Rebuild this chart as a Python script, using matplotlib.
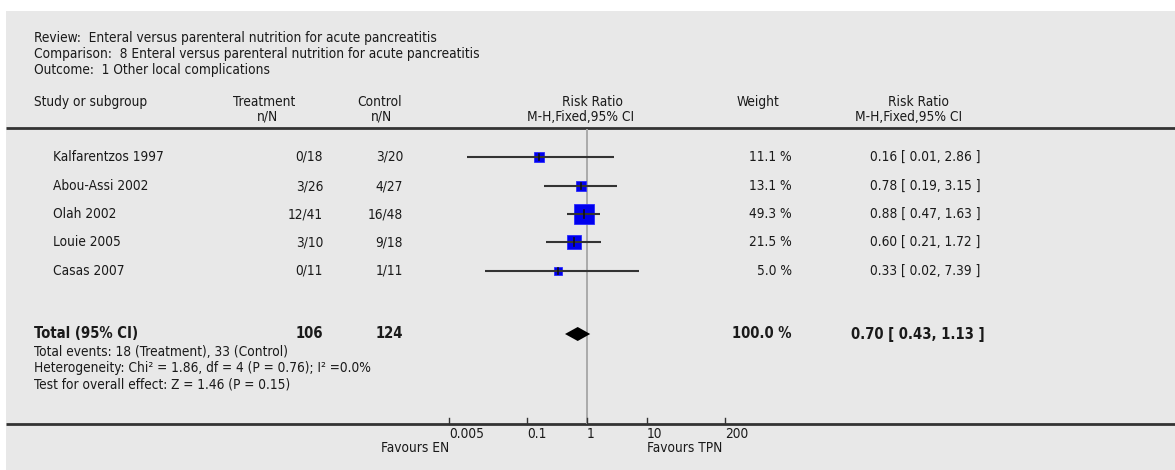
import numpy as np
import matplotlib
matplotlib.use("Agg")
import matplotlib.pyplot as plt

# ---- data -------------------------------------------------------------
studies = ["Kalfarentzos 1997", "Abou-Assi 2002", "Olah 2002", "Louie 2005", "Casas 2007"]
treat_nN = ["0/18", "3/26", "12/41", "3/10", "0/11"]
ctrl_nN = ["3/20", "4/27", "16/48", "9/18", "1/11"]
weights = [11.1, 13.1, 49.3, 21.5, 5.0]
rr = [0.16, 0.78, 0.88, 0.60, 0.33]
rr_lo = [0.01, 0.19, 0.47, 0.21, 0.02]
rr_hi = [2.86, 3.15, 1.63, 1.72, 7.39]

total_treat_N = 106
total_ctrl_N = 124
total_weight = 100.0
total_rr, total_lo, total_hi = 0.70, 0.43, 1.13

tick_values = [0.005, 0.1, 1, 10, 200]
tick_labels = ["0.005", "0.1", "1", "10", "200"]

header_lines = [
    "Review:  Enteral versus parenteral nutrition for acute pancreatitis",
    "Comparison:  8 Enteral versus parenteral nutrition for acute pancreatitis",
    "Outcome:  1 Other local complications",
]
footer_lines = [
    "Total events: 18 (Treatment), 33 (Control)",
    "Heterogeneity: Chi\u00b2 = 1.86, df = 4 (P = 0.76); I\u00b2 =0.0%",
    "Test for overall effect: Z = 1.46 (P = 0.15)",
]

# ---- fonts ------------------------------------------------------------
plt.rcParams["font.family"] = ["DejaVu Sans"]
plt.rcParams["font.stretch"] = "condensed"

W, H = 1175, 470
fig = plt.figure(figsize=(W / 100, H / 100), dpi=100)
fig.patch.set_facecolor("white")

# text layer in pixel coordinates (y grows downward)
ax = fig.add_axes([0, 0, 1, 1])
ax.set_xlim(0, W)
ax.set_ylim(H, 0)
ax.axis("off")

BG = "#e8e8e8"
ax.add_patch(plt.Rectangle((6, 11), W - 6, H - 11, facecolor=BG, edgecolor="none", zorder=0))

# forest layer: log-scaled x, ~60 px per decade, RR = 1 at x = 587 px
px_per_dec = 60.0
x_one = 587.0
fx = fig.add_axes([0, 0, 1, 1], facecolor="none")
fx.set_xscale("log")
fx.set_xlim(10 ** ((0 - x_one) / px_per_dec), 10 ** ((W - x_one) / px_per_dec))
fx.set_ylim(H, 0)
fx.axis("off")

fs = 9.8
tc = "#1a1a1a"

# header block
for i, line in enumerate(header_lines):
    ax.text(34, 38 + i * 16, line, fontsize=fs, color=tc, va="center", ha="left")

# column titles
ax.text(34, 102, "Study or subgroup", fontsize=fs, color=tc, va="center")
ax.text(264, 102, "Treatment", fontsize=fs, color=tc, va="center", ha="center")
ax.text(278, 117, "n/N", fontsize=fs, color=tc, va="center", ha="right")
ax.text(380, 102, "Control", fontsize=fs, color=tc, va="center", ha="center")
ax.text(392, 117, "n/N", fontsize=fs, color=tc, va="center", ha="right")
ax.text(592, 102, "Risk Ratio", fontsize=fs, color=tc, va="center", ha="center")
ax.text(581, 117, "M-H,Fixed,95% CI", fontsize=fs, color=tc, va="center", ha="center")
ax.text(758, 102, "Weight", fontsize=fs, color=tc, va="center", ha="center")
ax.text(918, 102, "Risk Ratio", fontsize=fs, color=tc, va="center", ha="center")
ax.text(909, 117, "M-H,Fixed,95% CI", fontsize=fs, color=tc, va="center", ha="center")

# rules
ax.plot([6, W], [128, 128], color="#333333", lw=2.0, zorder=3, solid_capstyle="butt")
ax.plot([6, W], [424, 424], color="#333333", lw=2.0, zorder=3, solid_capstyle="butt")

# line of no effect
fx.plot([1, 1], [130, 423], color="#aaaaaa", lw=1.4, zorder=1)

# study rows: weighted square, confidence interval line drawn across it
row_y = [157, 186, 214, 242, 271]
max_w = max(weights)
for name, tn, cn, w, r, lo, hi, y in zip(studies, treat_nN, ctrl_nN, weights, rr, rr_lo, rr_hi, row_y):
    ax.text(53, y, name, fontsize=fs, color=tc, va="center")
    ax.text(323, y, tn, fontsize=fs, color=tc, va="center", ha="right")
    ax.text(403, y, cn, fontsize=fs, color=tc, va="center", ha="right")
    ax.text(792, y, f"{w:.1f} %", fontsize=fs, color=tc, va="center", ha="right")
    ax.text(870, y, f"{r:.2f} [ {lo:.2f}, {hi:.2f} ]", fontsize=fs, color=tc, va="center", ha="left")

    side_px = max(8.5, 20.0 * np.sqrt(w / max_w))
    fx.plot([r], [y], marker="s", ms=side_px * 0.72, color="#0000ee",
            markeredgecolor="#2a2aff", mew=0.6, zorder=2)
    fx.plot([lo, hi], [y, y], color="#333333", lw=1.5, zorder=3, solid_capstyle="butt")
    tick_h = 4.0 if side_px > 12 else 3.0
    fx.plot([r, r], [y - tick_h, y + tick_h], color="#111111", lw=1.2, zorder=4)

# pooled estimate
ty = 334
bfs = 10.6
ax.text(34, ty, "Total (95% CI)", fontsize=bfs, color=tc, va="center", fontweight="bold")
ax.text(323, ty, str(total_treat_N), fontsize=bfs, color=tc, va="center", ha="right", fontweight="bold")
ax.text(403, ty, str(total_ctrl_N), fontsize=bfs, color=tc, va="center", ha="right", fontweight="bold")
ax.text(792, ty, f"{total_weight:.1f} %", fontsize=bfs, color=tc, va="center", ha="right", fontweight="bold")
ax.text(851, ty, f"{total_rr:.2f} [ {total_lo:.2f}, {total_hi:.2f} ]", fontsize=bfs, color=tc,
        va="center", ha="left", fontweight="bold")
fx.fill([total_lo, total_rr, total_hi, total_rr], [ty, ty - 7, ty, ty + 7],
        color="black", zorder=3, lw=0)

for i, line in enumerate(footer_lines):
    ax.text(34, 352 + i * 16, line, fontsize=fs, color=tc, va="center", ha="left")

# axis ticks and labels
for v, lab in zip(tick_values, tick_labels):
    fx.plot([v, v], [418, 424], color="#333333", lw=1.0, zorder=3)
    fx.text(v, 434, lab, fontsize=fs, color=tc, va="center", ha="left")

fx.text(0.005, 448, "Favours EN", fontsize=fs, color=tc, va="center", ha="right")
fx.text(10, 448, "Favours TPN", fontsize=fs, color=tc, va="center", ha="left")

fig.savefig("out.png", dpi=100, facecolor=fig.get_facecolor())
